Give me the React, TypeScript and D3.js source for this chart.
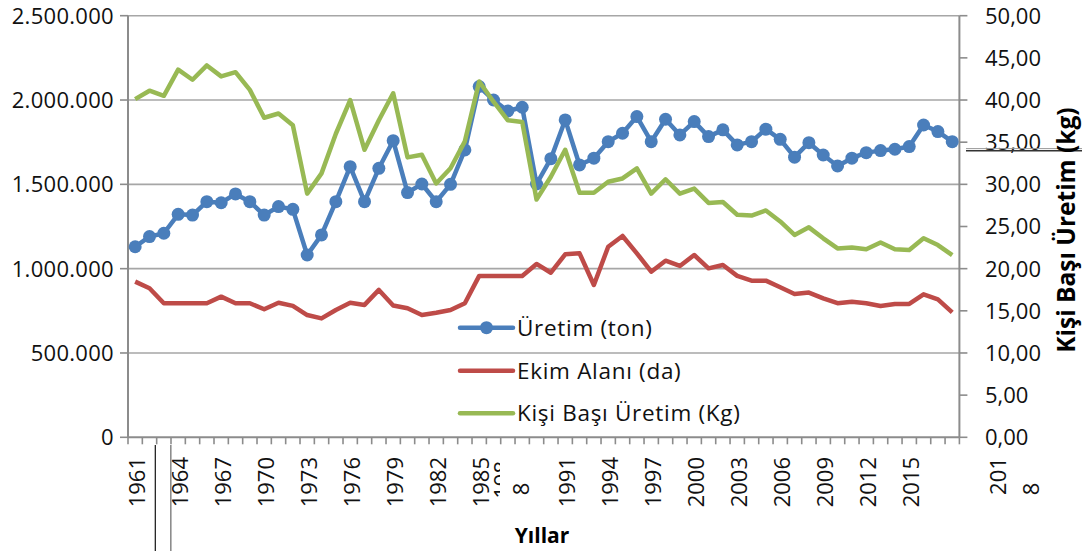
import { useEffect, useRef } from "react";
import * as d3 from "d3";

const years: number[] = d3.range(1961, 2019);

const uretimTon = [
  1130000, 1190000, 1210000, 1322000, 1318000, 1397000, 1391000, 1443000, 1397000, 1318000,
  1368000, 1352000, 1081000, 1200000, 1397000, 1605000, 1397000, 1595000, 1759000, 1451000,
  1502000, 1397000, 1500000, 1704000, 2080000, 2000000, 1935000, 1957000, 1502000, 1652000,
  1882000, 1615000, 1655000, 1753000, 1803000, 1902000, 1753000, 1886000, 1793000, 1872000,
  1783000, 1823000, 1734000, 1753000, 1827000, 1767000, 1661000, 1747000, 1674000, 1609000,
  1655000, 1688000, 1700000, 1708000, 1724000, 1852000, 1813000, 1753000,
];

const ekimAlaniDa = [
  923000, 884000, 795000, 795000, 795000, 795000, 834000, 795000, 795000, 759000,
  798000, 779000, 725000, 705000, 755000, 798000, 785000, 874000, 782000, 765000,
  725000, 739000, 755000, 795000, 957000, 957000, 957000, 957000, 1028000, 976000,
  1085000, 1091000, 903000, 1130000, 1194000, 1091000, 982000, 1047000, 1016000, 1081000,
  1002000, 1022000, 957000, 929000, 929000, 890000, 850000, 858000, 824000, 795000,
  804000, 795000, 779000, 791000, 791000, 848000, 818000, 741000,
];

const kisiBasiKg = [
  40.1, 41.1, 40.5, 43.6, 42.4, 44.1, 42.8, 43.3, 41.2, 37.9,
  38.4, 37.0, 28.9, 31.3, 36.0, 40.0, 34.1, 37.6, 40.8, 33.2,
  33.5, 30.1, 31.9, 35.1, 42.2, 39.8, 37.6, 37.4, 28.2, 30.9,
  34.1, 29.0, 29.0, 30.3, 30.7, 31.9, 28.9, 30.6, 28.9, 29.5,
  27.8, 27.9, 26.4, 26.3, 26.9, 25.6, 24.0, 24.9, 23.6, 22.4,
  22.5, 22.3, 23.1, 22.3, 22.2, 23.6, 22.8, 21.6,
];

const leftTicks = [0, 500000, 1000000, 1500000, 2000000, 2500000];
const rightTicks = [0, 5, 10, 15, 20, 25, 30, 35, 40, 45, 50];
// every third year gets a label; 1988 and 2018 are drawn broken like in the source
const labelYears = years.filter((y) => (y - 1961) % 3 === 0 && y !== 1988 && y !== 2018);

const seriesNames = ["Üretim (ton)", "Ekim Alanı (da)", "Kişi Başı Üretim (Kg)"];
const seriesColors = ["#4a7ebb", "#be4b48", "#98b954"];

const FONT = "'Open Sans', 'Noto Sans', sans-serif";

export default function App() {
  const svgRef = useRef<SVGSVGElement>(null);

  useEffect(() => {
    if (!svgRef.current) return;
    const width = 1082;
    const height = 551;
    const plot = { left: 128, right: 959.4, top: 15.7, bottom: 437.3 };

    d3.select(svgRef.current).selectAll("*").remove();
    const svg = d3.select(svgRef.current)
      .attr("width", width)
      .attr("height", height)
      .attr("font-family", FONT);

    const x = d3.scaleBand<number>()
      .domain(years)
      .range([plot.left, plot.right])
      .padding(0);
    const cx = (yr: number) => (x(yr) as number) + x.bandwidth() / 2;

    const yLeft = d3.scaleLinear().domain([0, 2500000]).range([plot.bottom, plot.top]);
    const yRight = d3.scaleLinear().domain([0, 50]).range([plot.bottom, plot.top]);

    const axisColor = "#8c8c8c";
    const gridColor = "#a6a6a6";

    // gridlines
    svg.append("g")
      .selectAll("line")
      .data(leftTicks.filter((t) => t > 0))
      .join("line")
      .attr("x1", plot.left)
      .attr("x2", plot.right)
      .attr("y1", (d) => yLeft(d))
      .attr("y2", (d) => yLeft(d))
      .attr("stroke", gridColor)
      .attr("stroke-width", 1.6);

    // left axis
    const left = svg.append("g");
    left.append("line")
      .attr("x1", plot.left).attr("x2", plot.left)
      .attr("y1", plot.top).attr("y2", plot.bottom)
      .attr("stroke", axisColor).attr("stroke-width", 2);
    left.selectAll("line.tick")
      .data(leftTicks)
      .join("line")
      .attr("class", "tick")
      .attr("x1", plot.left - 8).attr("x2", plot.left)
      .attr("y1", (d) => yLeft(d)).attr("y2", (d) => yLeft(d))
      .attr("stroke", axisColor).attr("stroke-width", 1.6);
    left.selectAll("text")
      .data(leftTicks)
      .join("text")
      .attr("x", 114)
      .attr("y", (d) => yLeft(d))
      .attr("dy", "0.36em")
      .attr("text-anchor", "end")
      .attr("font-size", 22)
      .attr("letter-spacing", 0.3)
      .attr("fill", "#111")
      .text((d) => (d === 0 ? "0" : d3.format(",")(d).replace(/,/g, ".")));

    // right axis
    const right = svg.append("g");
    right.append("line")
      .attr("x1", plot.right).attr("x2", plot.right)
      .attr("y1", plot.top).attr("y2", plot.bottom)
      .attr("stroke", axisColor).attr("stroke-width", 2);
    right.selectAll("line.tick")
      .data(rightTicks)
      .join("line")
      .attr("class", "tick")
      .attr("x1", plot.right).attr("x2", plot.right + 8)
      .attr("y1", (d) => yRight(d)).attr("y2", (d) => yRight(d))
      .attr("stroke", axisColor).attr("stroke-width", 1.6);
    right.selectAll("text")
      .data(rightTicks)
      .join("text")
      .attr("x", 985)
      .attr("y", (d) => yRight(d))
      .attr("dy", "0.36em")
      .attr("font-size", 22)
      .attr("fill", "#111")
      .text((d) => d.toFixed(2).replace(".", ","));

    // stray rule across the 35,00 label
    svg.append("line")
      .attr("x1", 966).attr("x2", width)
      .attr("y1", 148.6).attr("y2", 148.6)
      .attr("stroke", "#999").attr("stroke-width", 1);
    svg.append("line")
      .attr("x1", 966).attr("x2", width)
      .attr("y1", 150.8).attr("y2", 150.8)
      .attr("stroke", "#333").attr("stroke-width", 1.6);

    svg.append("text")
      .attr("transform", `translate(1075,230) rotate(-90)`)
      .attr("text-anchor", "middle")
      .attr("font-size", 24.5)
      .attr("font-weight", "bold")
      .attr("fill", "#000")
      .text("Kişi Başı Üretim (kg)");

    // bottom axis
    const bottom = svg.append("g");
    bottom.append("line")
      .attr("x1", plot.left).attr("x2", plot.right)
      .attr("y1", plot.bottom).attr("y2", plot.bottom)
      .attr("stroke", axisColor).attr("stroke-width", 2);
    bottom.selectAll("line.tick")
      .data([...years, 2019])
      .join("line")
      .attr("class", "tick")
      .attr("x1", (d, i) => plot.left + i * x.bandwidth())
      .attr("x2", (d, i) => plot.left + i * x.bandwidth())
      .attr("y1", plot.bottom).attr("y2", plot.bottom + 7)
      .attr("stroke", axisColor).attr("stroke-width", 1.6);
    bottom.selectAll("text.yr")
      .data(labelYears)
      .join("text")
      .attr("class", "yr")
      .attr("transform", (d) => `translate(${cx(d) + 1.5},457) rotate(-90)`)
      .attr("dy", "0.36em")
      .attr("text-anchor", "end")
      .attr("font-size", 22)
      .attr("fill", "#111")
      .text((d) => String(d));

    // broken 1988 label: clipped sliver plus the wrapped "8"
    svg.append("clipPath").attr("id", "clip88")
      .append("rect").attr("x", 493).attr("y", 440).attr("width", 7).attr("height", 70);
    bottom.append("g")
      .attr("clip-path", "url(#clip88)")
      .append("text")
      .attr("transform", `translate(${cx(1988) - 20},461) rotate(-90)`)
      .attr("dy", "0.36em")
      .attr("text-anchor", "end")
      .attr("font-size", 22)
      .attr("fill", "#111")
      .text("198");
    bottom.append("text")
      .attr("transform", `translate(${cx(1988) - 1},489) rotate(-90)`)
      .attr("dy", "0.36em")
      .attr("text-anchor", "middle")
      .attr("font-size", 22)
      .attr("fill", "#111")
      .text("8");

    // broken 2018 label
    bottom.append("text")
      .attr("transform", `translate(998,476) rotate(-90)`)
      .attr("dy", "0.36em")
      .attr("text-anchor", "middle")
      .attr("font-size", 22)
      .attr("fill", "#111")
      .text("201");
    bottom.append("text")
      .attr("transform", `translate(1031,489) rotate(-90)`)
      .attr("dy", "0.36em")
      .attr("text-anchor", "middle")
      .attr("font-size", 22)
      .attr("fill", "#111")
      .text("8");

    // leftover vertical rules under the axis
    svg.append("line")
      .attr("x1", 155.3).attr("x2", 155.3)
      .attr("y1", 445).attr("y2", height)
      .attr("stroke", "#111").attr("stroke-width", 1.2);
    svg.append("line")
      .attr("x1", 170.8).attr("x2", 170.8)
      .attr("y1", 445).attr("y2", height)
      .attr("stroke", axisColor).attr("stroke-width", 1.6);

    svg.append("text")
      .attr("x", 542)
      .attr("y", 543)
      .attr("text-anchor", "middle")
      .attr("font-size", 21)
      .attr("font-weight", "bold")
      .attr("fill", "#000")
      .text("Yıllar");

    // series
    const lineLeft = d3.line<number>()
      .x((d, i) => cx(years[i]))
      .y((d) => yLeft(d));
    const lineRight = d3.line<number>()
      .x((d, i) => cx(years[i]))
      .y((d) => yRight(d));

    const g = svg.append("g");
    g.append("path")
      .datum(uretimTon)
      .attr("d", lineLeft)
      .attr("fill", "none")
      .attr("stroke", seriesColors[0])
      .attr("stroke-width", 4.5)
      .attr("stroke-linejoin", "round");
    g.selectAll("circle")
      .data(uretimTon)
      .join("circle")
      .attr("cx", (d, i) => cx(years[i]))
      .attr("cy", (d) => yLeft(d))
      .attr("r", 6.5)
      .attr("fill", seriesColors[0]);
    g.append("path")
      .datum(ekimAlaniDa)
      .attr("d", lineLeft)
      .attr("fill", "none")
      .attr("stroke", seriesColors[1])
      .attr("stroke-width", 4.5)
      .attr("stroke-linejoin", "round");
    g.append("path")
      .datum(kisiBasiKg)
      .attr("d", lineRight)
      .attr("fill", "none")
      .attr("stroke", seriesColors[2])
      .attr("stroke-width", 4.5)
      .attr("stroke-linejoin", "round");

    // legend
    const legend = svg.append("g");
    const rowY = [327.7, 370.7, 413.3];
    seriesNames.forEach((name, i) => {
      const row = legend.append("g").attr("transform", `translate(0,${rowY[i]})`);
      row.append("line")
        .attr("x1", 460).attr("x2", 513)
        .attr("stroke", seriesColors[i])
        .attr("stroke-width", 4.5)
        .attr("stroke-linecap", "round");
      if (i === 0) {
        row.append("circle").attr("cx", 486.5).attr("r", 6.5).attr("fill", seriesColors[0]);
      }
      row.append("text")
        .attr("x", 517)
        .attr("dy", "0.36em")
        .attr("font-size", 22.5)
        .attr("letter-spacing", 0.7)
        .attr("fill", "#111")
        .text(name);
    });
  }, []);

  return (
    <svg
      ref={svgRef}
      style={{ position: "absolute", left: 0, top: 0, background: "#fff" }}
    />
  );
}
